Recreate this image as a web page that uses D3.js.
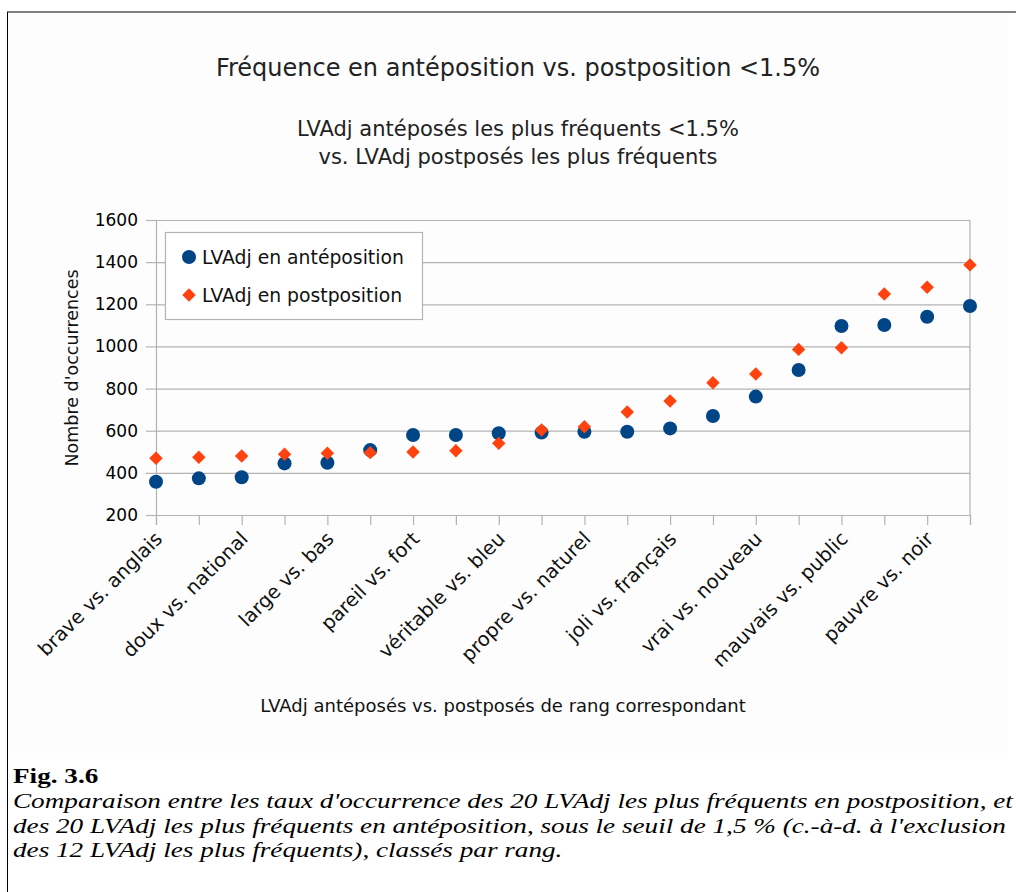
<!DOCTYPE html>
<html>
<head>
<meta charset="utf-8">
<script src="https://cdn.jsdelivr.net/npm/d3@7"></script>
<style>
  html, body { margin: 0; padding: 0; background: #ffffff; }
  svg { display: block; }
</style>
</head>
<body>
<svg id="chart" width="1016" height="892"></svg>
<script>
// ---- data ----
const ranks = d3.range(20); // 20 rank positions
const tickLabels = ["brave vs. anglais", "doux vs. national", "large vs. bas", "pareil vs. fort",
  "véritable vs. bleu", "propre vs. naturel", "joli vs. français", "vrai vs. nouveau",
  "mauvais vs. public", "pauvre vs. noir"]; // shown on every other rank
const antepos = [358, 374, 379, 445, 448, 508, 580, 580, 588, 591,
                 595, 595, 611, 670, 762, 888, 1097, 1102, 1141, 1192];
const postpos = [469, 474, 480, 488, 493, 496, 499, 505, 540, 603,
                 619, 689, 741, 828, 869, 986, 994, 1249, 1281, 1387];
const yTicks = [200, 400, 600, 800, 1000, 1200, 1400, 1600];
const seriesNames = ["LVAdj en antéposition", "LVAdj en postposition"];
const title = "Fréquence en antéposition vs. postposition <1.5%";
const subtitle = ["LVAdj antéposés les plus fréquents <1.5%", "vs. LVAdj postposés les plus fréquents"];
const xTitle = "LVAdj antéposés vs. postposés de rang correspondant";
const yTitle = "Nombre d'occurrences";
const captionHead = "Fig. 3.6";
const captionLines = [
  "Comparaison entre les taux d'occurrence des 20 LVAdj les plus fréquents en postposition, et",
  "des 20 LVAdj les plus fréquents en antéposition, sous le seuil de 1,5 % (c.-à-d. à l'exclusion",
  "des 12 LVAdj les plus fréquents), classés par rang."
];

const svg = d3.select("#chart");
const font = "DejaVu Sans, sans-serif";
const blue = "#004586", orange = "#ff420e", grid = "#b3b3b3", txt = "#222";

// frame & background
svg.append("rect").attr("x", 8).attr("y", 13).attr("width", 1000).attr("height", 740).attr("fill", "#fdfdfd");
svg.append("line").attr("x1", 7).attr("x2", 1016).attr("y1", 12).attr("y2", 12).attr("stroke", "#808080").attr("stroke-width", 2);
svg.append("line").attr("x1", 7.5).attr("x2", 7.5).attr("y1", 12).attr("y2", 892).attr("stroke", "#000").attr("stroke-width", 1);

// scales
const x = d3.scalePoint().domain(ranks).range([156, 970]);
const y = d3.scaleLinear().domain([200, 1600]).range([515, 220]);

// titles
svg.append("text").attr("x", 518).attr("y", 76).attr("text-anchor", "middle")
  .attr("font-family", font).attr("font-size", 24).attr("fill", txt).text(title);
svg.selectAll(".sub").data(subtitle).enter().append("text")
  .attr("x", 518).attr("y", (d, i) => 135.5 + i * 28).attr("text-anchor", "middle")
  .attr("font-family", font).attr("font-size", 21).attr("fill", txt).text(d => d);

// gridlines
const gGrid = svg.append("g").attr("transform", "translate(156,0)")
  .call(d3.axisLeft(y).tickValues(yTicks).tickSize(-(970 - 156)).tickFormat(""));
gGrid.select(".domain").remove();
gGrid.selectAll("line").attr("stroke", grid).attr("stroke-width", 1.2);

// right border
svg.append("line").attr("x1", 970).attr("x2", 970).attr("y1", 220).attr("y2", 515).attr("stroke", grid).attr("stroke-width", 1.2);

// y axis
const gy = svg.append("g").attr("transform", "translate(156,0)")
  .call(d3.axisLeft(y).tickValues(yTicks).tickSize(10).tickPadding(8).tickFormat(d3.format("d")));
gy.select(".domain").attr("stroke", grid).attr("stroke-width", 1.2);
gy.selectAll("line").attr("stroke", grid).attr("stroke-width", 1.2);
gy.selectAll("text").attr("font-family", font).attr("font-size", 17).attr("fill", "#000");

// x axis
const labelMap = new Map(tickLabels.map((t, i) => [i * 2, t]));
const gx = svg.append("g").attr("transform", "translate(0,515)")
  .call(d3.axisBottom(x).tickSize(10).tickFormat(d => labelMap.get(d) || ""));
gx.select(".domain").attr("stroke", grid).attr("stroke-width", 1.2);
gx.selectAll("line").attr("stroke", grid).attr("stroke-width", 1.2);
gx.selectAll("text")
  .attr("font-family", font).attr("font-size", 19.5).attr("fill", "#111")
  .attr("text-anchor", "end").attr("dy", null).attr("y", 0)
  .attr("transform", "translate(7,25) rotate(-45)");

// axis titles
svg.append("text").attr("transform", "translate(78,368) rotate(-90)").attr("text-anchor", "middle")
  .attr("font-family", font).attr("font-size", 17.5).attr("fill", "#111").text(yTitle);
svg.append("text").attr("x", 503).attr("y", 711.5).attr("text-anchor", "middle")
  .attr("font-family", font).attr("font-size", 18).attr("fill", "#111").text(xTitle);

// points
const diamond = d3.symbol().type(d3.symbolDiamond2).size(115);
svg.append("g").selectAll("circle").data(antepos).enter().append("circle")
  .attr("cx", (d, i) => x(ranks[i])).attr("cy", d => y(d)).attr("r", 7).attr("fill", blue);
svg.append("g").selectAll("path").data(postpos).enter().append("path")
  .attr("d", diamond).attr("transform", (d, i) => `translate(${x(ranks[i])},${y(d)})`).attr("fill", orange);

// legend
const lg = svg.append("g");
lg.append("rect").attr("x", 165.5).attr("y", 232.5).attr("width", 257).attr("height", 87)
  .attr("fill", "#fff").attr("stroke", grid).attr("stroke-width", 1.2);
lg.append("circle").attr("cx", 189).attr("cy", 257).attr("r", 7).attr("fill", blue);
lg.append("path").attr("d", diamond).attr("transform", "translate(189,295)").attr("fill", orange);
lg.selectAll(".lt").data(seriesNames).enter().append("text")
  .attr("x", 202).attr("y", (d, i) => 263.5 + i * 38)
  .attr("font-family", font).attr("font-size", 18.8).attr("fill", "#111").text(d => d);

// caption (horizontally widened serif, as in the reference)
const serif = "Liberation Serif, Times New Roman, serif";
const cap = svg.append("g").attr("transform", "translate(13,0) scale(1.235,1)");
cap.append("text").attr("x", 0).attr("y", 783).attr("font-family", serif).attr("font-weight", "bold")
  .attr("font-size", 22).attr("fill", "#000").text(captionHead);
cap.selectAll(".cap").data(captionLines).enter().append("text")
  .attr("x", 0).attr("y", (d, i) => 808.5 + i * 24.5)
  .attr("font-family", serif).attr("font-style", "italic").attr("font-size", 22).attr("fill", "#000").text(d => d);
</script>
</body>
</html>
